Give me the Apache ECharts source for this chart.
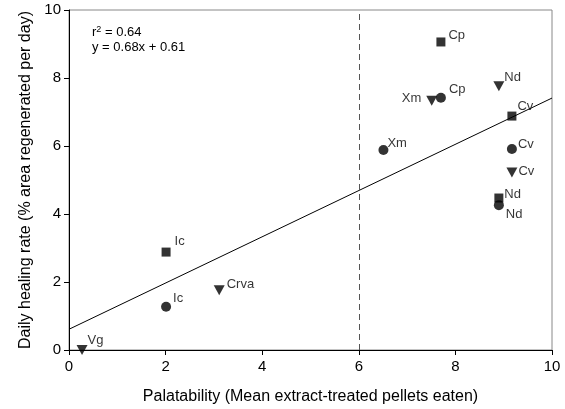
<!DOCTYPE html>
<html>
<head>
<meta charset="utf-8">
<script src="https://cdn.jsdelivr.net/npm/echarts@6/dist/echarts.min.js"></script>
<style>
  html, body { margin: 0; padding: 0; background: #fff; }
  #chart { width: 565px; height: 409px; }
</style>
</head>
<body>
<div id="chart"></div>
<script>
// data: [palatability, healing rate, label]
const squarePts = [[7.70, 9.06, 'Cp'], [9.17, 6.88, 'Cv'], [8.90, 4.47, 'Nd'], [2.01, 2.88, 'Ic']];
const circlePts = [[7.70, 7.42, 'Cp'], [6.51, 5.88, 'Xm'], [9.17, 5.91, 'Cv'], [8.90, 4.26, 'Nd'], [2.01, 1.27, 'Ic']];
const trianglePts = [[7.51, 7.33, 'Xm'], [8.90, 7.76, 'Nd'], [9.17, 5.22, 'Cv'], [3.11, 1.76, 'Crva'], [0.27, 0.0, 'Vg']];
const slope = 0.68;
const intercept = 0.61;
const cutoff = 6;

const font = 'Liberation Sans, Arial, sans-serif';

// where each label sits next to its marker
const labelOffsets = {
  'sq-Cp': [-2, -7], 'sq-Cv': [-4, -10], 'sq-Nd': [-4, -4], 'sq-Ic': [-1, -11],
  'circ-Cp': [-2, -8], 'circ-Xm': [-6, -7], 'circ-Cv': [-4, -5], 'circ-Nd': [-3, 9], 'circ-Ic': [-3, -8],
  'tri-Xm': [0, -2], 'tri-Nd': [-5, -9], 'tri-Cv': [-4, -1], 'tri-Crva': [-3, -6], 'tri-Vg': [-5, -10]
};

function labelFor(name, kind) {
  return {
    show: true,
    formatter: name,
    position: (kind === 'tri' && name === 'Xm') ? 'left' : 'right',
    distance: 5,
    offset: labelOffsets[kind + '-' + name],
    color: '#000',
    fontSize: 13,
    fontFamily: font
  };
}

function toData(pts, kind) {
  return pts.map(p => ({ value: [p[0], p[1]], label: labelFor(p[2], kind) }));
}

const chart = echarts.init(document.getElementById('chart'));

const option = {
  animation: false,
  grid: {
    left: 69, right: 13, top: 10, bottom: 59,
    outerBoundsMode: 'none',
    show: true, borderColor: '#888', borderWidth: 1
  },
  xAxis: {
    type: 'value', min: 0, max: 10, interval: 2,
    name: 'Palatability (Mean extract-treated pellets eaten)',
    nameLocation: 'middle', nameGap: 39,
    nameTextStyle: { fontSize: 16, color: '#000', fontFamily: font },
    axisLine: { show: true, lineStyle: { color: '#000' } },
    axisTick: { show: true, inside: false, length: 5, lineStyle: { color: '#000' } },
    axisLabel: { color: '#000', fontSize: 15, fontFamily: font, margin: 9 },
    splitLine: { show: false }
  },
  yAxis: {
    type: 'value', min: 0, max: 10, interval: 2,
    name: 'Daily healing rate (% area regenerated per day)',
    nameLocation: 'middle', nameGap: 30,
    nameTextStyle: { fontSize: 16, color: '#000', fontFamily: font },
    axisLine: { show: true, lineStyle: { color: '#000' } },
    axisTick: { show: true, inside: false, length: 5, lineStyle: { color: '#000' } },
    axisLabel: { color: '#000', fontSize: 15, fontFamily: font, margin: 8 },
    splitLine: { show: false }
  },
  graphic: [{
    type: 'text', left: 92, top: 25,
    style: {
      text: '{b|r}{s|2}{b| = 0.64}\n{b|y = 0.68x + 0.61}',
      rich: {
        b: { fontSize: 13, fontFamily: font, fill: '#000', lineHeight: 15 },
        s: { fontSize: 9, fontFamily: font, fill: '#000', verticalAlign: 'top', lineHeight: 15 }
      }
    }
  }],
  series: [
    {
      type: 'line',
      data: [[0, intercept], [10, intercept + slope * 10]],
      symbol: 'none',
      lineStyle: { color: '#000', width: 1 },
      z: 1,
      markLine: {
        silent: true, symbol: 'none', label: { show: false },
        lineStyle: { color: '#555', type: [6, 4], width: 1 },
        data: [{ xAxis: cutoff }]
      }
    },
    {
      type: 'scatter', symbol: 'rect', symbolSize: 9,
      itemStyle: { color: '#000' },
      data: toData(squarePts, 'sq'), z: 3
    },
    {
      type: 'scatter', symbol: 'circle', symbolSize: 10,
      itemStyle: { color: '#000' },
      data: toData(circlePts, 'circ'), z: 3
    },
    {
      type: 'scatter', symbol: 'triangle', symbolSize: [11, 10], symbolRotate: 180,
      itemStyle: { color: '#000' },
      data: toData(trianglePts, 'tri'), z: 3
    }
  ]
};

chart.setOption(option);
</script>
</body>
</html>
